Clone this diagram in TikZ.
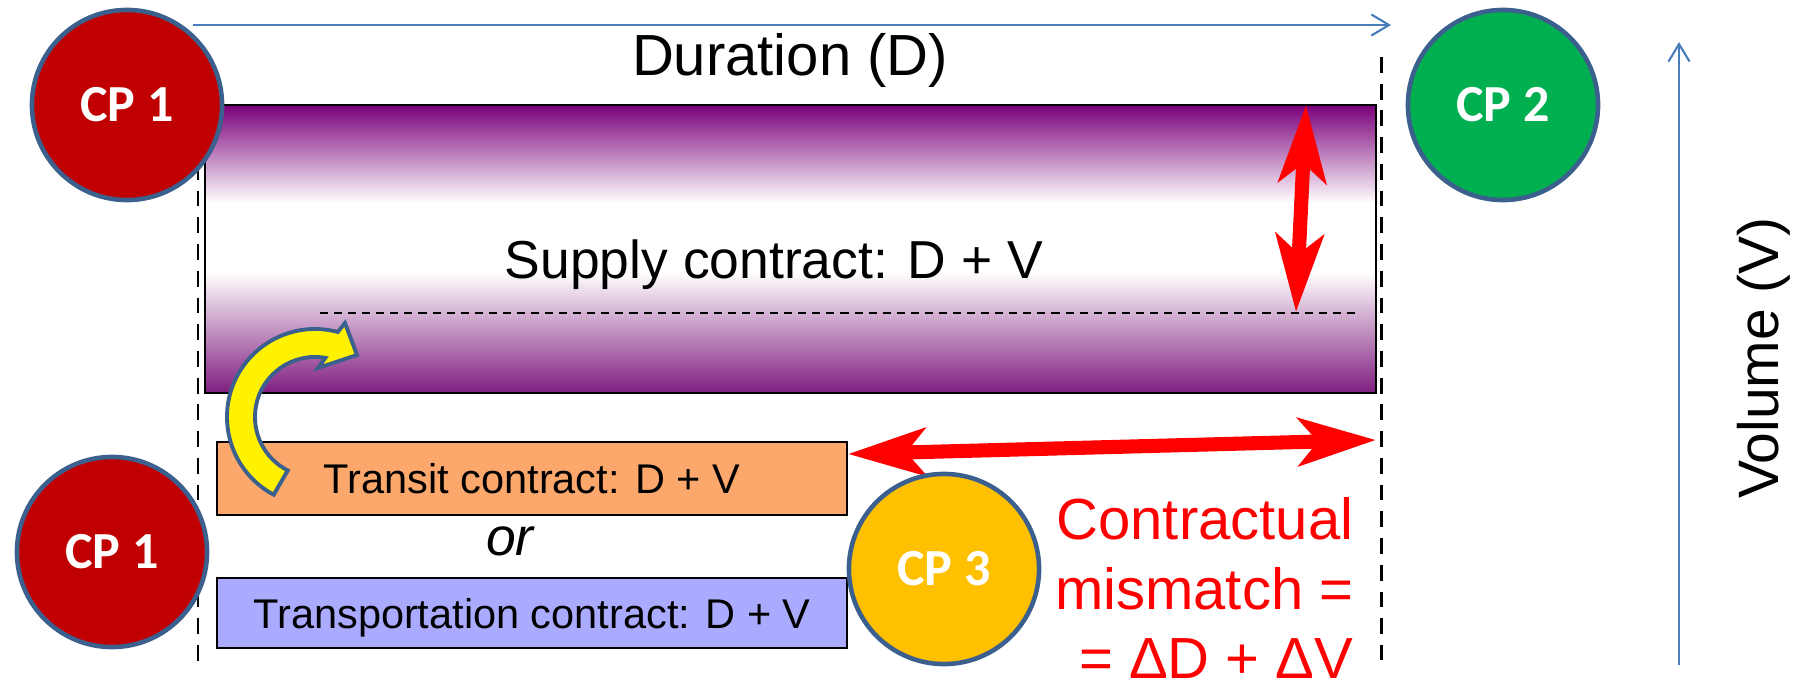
\documentclass[tikz,border=0pt]{standalone}
\usepackage{fontspec}
\setmainfont{Liberation Sans}
\newfontfamily\cpfont{Carlito}
\usepackage{tikz}
\usetikzlibrary{arrows.meta,positioning}

\definecolor{cpred}{RGB}{192,0,0}
\definecolor{cpgreen}{RGB}{0,176,80}
\definecolor{cporange}{RGB}{255,192,0}
\definecolor{cpborder}{RGB}{60,96,142}
\definecolor{transitfill}{RGB}{252,167,108}
\definecolor{transportfill}{RGB}{170,170,255}
\definecolor{axisblue}{RGB}{74,126,187}
\definecolor{supplytop}{RGB}{122,0,122}
\definecolor{supplybot}{RGB}{128,30,128}
\pgfdeclareverticalshading{supplyshade}{100bp}{color(0bp)=(supplybot); color(25bp)=(supplybot); color(46bp)=(white); color(58bp)=(white); color(75bp)=(supplytop); color(100bp)=(supplytop)}

\begin{document}
\begin{tikzpicture}[x=0.01cm,y=-0.01cm,>=Stealth,
  cp/.style={circle,draw=cpborder,line width=1.3pt,minimum size=1.9cm,inner sep=0pt,text=white,font=\cpfont\bfseries\fontsize{14.8}{17}\selectfont},
  contract/.style={draw,line width=0.6pt,minimum width=6.3cm,minimum height=0.73cm,inner sep=0pt,text depth=0pt,font=\fontsize{11.8}{14}\selectfont},
  axis/.style={draw=axisblue,line width=0.6pt,-{Straight Barb[length=5pt,width=6pt]}},
  limit/.style={line width=0.85pt,dash pattern=on 4.5pt off 3.1pt},
  mismatch/.style={red,line width=4pt,{Stealth[length=22pt,width=13.5pt,inset=5.5pt]}-{Stealth[length=22pt,width=13.5pt,inset=5.5pt]}},
  big/.style={font=\fontsize{16.5}{19.8}\selectfont}]
\useasboundingbox (0,0) rectangle (1799,685);
\node[draw,line width=0.5pt,minimum width=11.71cm,minimum height=2.88cm,inner sep=0pt,shading=supplyshade] (supply) at (790.5,249) {};
\node[anchor=base,font=\fontsize{15.2}{18}\selectfont] (supplytxt) at (774,279) {Supply contract: D + V};
\coordinate (levelA) at (320,313);
\coordinate (levelB) at (1360,313);
\draw[line width=0.5pt,dash pattern=on 2.3pt off 1.7pt] (levelA) -- (levelB);
\coordinate (lefttop) at (198,57);
\coordinate (leftbot) at (198,663);
\coordinate (righttop) at (1381,57);
\coordinate (rightbot) at (1381,660);
\draw[limit] (lefttop) -- (leftbot);
\draw[limit] (righttop) -- (rightbot);
\node[contract,fill=transitfill] (transit) at (532,478.5) {Transit contract: D + V};
\node[contract,fill=transportfill,minimum height=0.7cm] (transport) at (532,613) {Transportation contract: D + V};
\node[anchor=base,font=\itshape\fontsize{15.2}{18}\selectfont] (or) at (510,555) {or};
\filldraw[fill=yellow,draw=cpborder,line width=1.1pt]
  (315,417) ++(118:88) arc[start angle=118,end angle=285,radius=88]
  -- (345,323) -- (357,355) -- (318,368) -- (325.4,357.9)
  arc[start angle=280,end angle=117,radius=60] -- cycle;
\coordinate (vtopc) at (1306,105);
\coordinate (vbotc) at (1296,312);
\draw[mismatch] (vtopc) -- (vbotc);
\coordinate (mleft) at (848,454);
\coordinate (mright) at (1376,440);
\draw[mismatch] (mleft) -- (mright);
\node[anchor=east,align=right,text=red,big,inner sep=0pt] (mismatchtxt) at (1354,588) {Contractual\\mismatch =\\= ΔD + ΔV};
\node[cp,fill=cpred] (cp1a) at (127,105) {CP 1};
\node[cp,fill=cpgreen] (cp2) at (1503,105) {CP 2};
\node[cp,fill=cpred] (cp1b) at (112,552) {CP 1};
\node[cp,fill=cporange] (cp3) at (944,569) {CP 3};
\coordinate (dstart) at (193,25);
\coordinate (dend) at (1391,25);
\draw[axis] (dstart) -- (dend);
\node[anchor=base,big] (dur) at (790,76) {Duration (D)};
\coordinate (vstart) at (1679,665);
\coordinate (vend) at (1679,42);
\draw[axis] (vstart) -- (vend);
\node[anchor=base,rotate=90,font=\fontsize{16.2}{19}\selectfont] (vol) at (1778,358) {Volume (V)};
\end{tikzpicture}
\end{document}
